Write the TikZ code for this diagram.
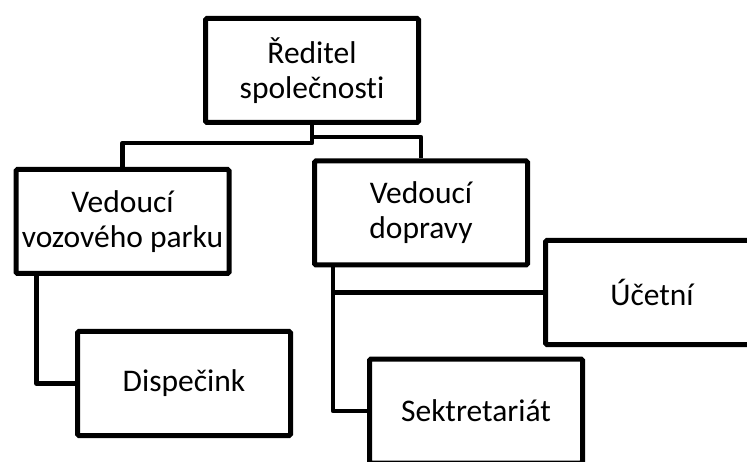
\documentclass[tikz,border=0pt]{standalone}
\usepackage{fontspec}
\setmainfont{Carlito}[Ligatures=CommonOff]
\usepackage{tikz}
\usetikzlibrary{positioning,calc}

\begin{document}
\begin{tikzpicture}[
    x=1pt, y=-1pt,
    unit/.style={draw, line width=5pt, rounded corners=1.5pt,
                 minimum width=213pt, minimum height=104pt, inner sep=1pt,
                 font=\fontsize{31.5}{35}\selectfont, align=center},
    link/.style={line width=4.5pt, line join=round},
  ]

  \useasboundingbox (0,0) rectangle (747,462);
  \clip (0,0) rectangle (747,462);

  \node[unit] (boss) at (312,70.5) {Ředitel\\společnosti};

  \node[unit] (fleet) at (122.5,221.5) {Vedoucí\\vozového parku};

  \node[unit] (transport) at (421,213) {Vedoucí\\dopravy};

  \node[unit] (accountant) at (652,292.5) {Účetní};

  \node[unit] (dispatch) at (184,383.5) {Dispečink};

  \node[unit] (secretary) at (476,411) {Sektretariát};

  \draw[link] (boss.south) -- ++(0,18) -| (fleet.north);
  \draw[link] (boss.south) -- ++(0,12) -| (transport.north);
  \draw[link] ([xshift=23pt]fleet.south west) |- (dispatch.west);
  \draw[link] ([xshift=21pt]transport.south west) |- (accountant.west);
  \draw[link] ([xshift=21pt]transport.south west) |- (secretary.west);

\end{tikzpicture}
\end{document}
